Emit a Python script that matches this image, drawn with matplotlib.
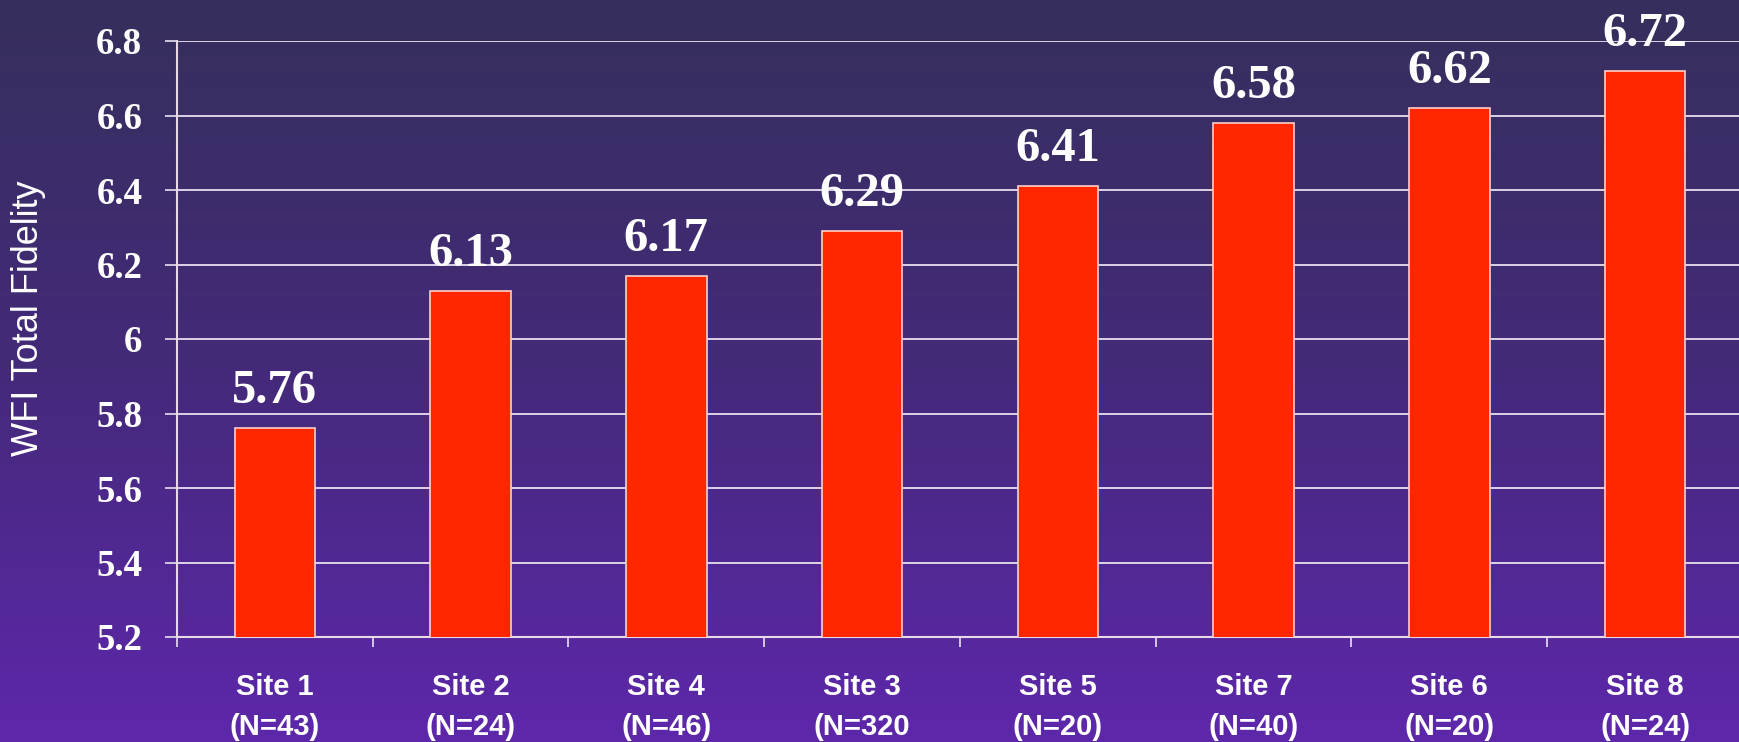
import numpy as np
import matplotlib
matplotlib.use("Agg")
import matplotlib.pyplot as plt
from matplotlib.colors import LinearSegmentedColormap

sites = ["Site 1", "Site 2", "Site 4", "Site 3", "Site 5", "Site 7", "Site 6", "Site 8"]
ns = ["(N=43)", "(N=24)", "(N=46)", "(N=320", "(N=20)", "(N=40)", "(N=20)", "(N=24)"]
values = [5.76, 6.13, 6.17, 6.29, 6.41, 6.58, 6.62, 6.72]
yticks = [5.2, 5.4, 5.6, 5.8, 6.0, 6.2, 6.4, 6.6, 6.8]
ylabel = "WFI Total Fidelity"

fig = plt.figure(figsize=(17.4, 7.42), dpi=100)

# gradient background
bg = fig.add_axes([0, 0, 1, 1], zorder=-10)
cmap = LinearSegmentedColormap.from_list("bg", ["#362f5c", "#442a7a", "#5e27ab"])
grad = np.linspace(0, 1, 256).reshape(-1, 1)
bg.imshow(grad, aspect="auto", cmap=cmap, extent=[0, 1, 0, 1], origin="upper")
bg.set_axis_off()

ax = fig.add_axes([177 / 1740, 1 - 637 / 742, 1566 / 1740, 596 / 742])
ax.set_facecolor("none")

x = np.arange(len(values))
bars = ax.bar(x, values, width=0.41, bottom=0, color="#ff2600",
              edgecolor="#ffd0c8", linewidth=1.2, zorder=3)

ax.set_xlim(-0.5, len(values) - 0.5)
ax.set_ylim(5.2, 6.8)
ax.set_yticks(yticks)
ax.set_yticklabels([f"{v:g}" for v in yticks])
ax.grid(axis="y", color="#e8e0f0", linewidth=1.3, zorder=1)
ax.set_axisbelow(True)

for lab in ax.get_yticklabels():
    lab.set_fontfamily("Liberation Serif")
    lab.set_fontweight("bold")
    lab.set_fontsize(26.5)
    lab.set_color("white")
ax.tick_params(axis="y", length=9, width=1.2, color="#e8e0f0", pad=16)

ax.set_xticks(x)
ax.set_xticklabels([f"{s}\n{n}" for s, n in zip(sites, ns)],
                   fontfamily="Liberation Sans", fontweight="bold",
                   fontsize=21, color="white", linespacing=1.55)
ax.tick_params(axis="x", which="major", length=0, pad=26)
ax.set_xticks(np.arange(-0.5, len(values)), minor=True)
ax.tick_params(axis="x", which="minor", length=7, width=1.2, color="#e8e0f0")

for s in ["top", "right"]:
    ax.spines[s].set_visible(False)
ax.spines["left"].set_color("#e8d8e8")
ax.spines["left"].set_linewidth(1.5)
ax.spines["bottom"].set_color("#e8d8e8")
ax.spines["bottom"].set_linewidth(1.5)

for xi, v in zip(x, values):
    ax.annotate(f"{v:.2f}", (xi, v), xytext=(0, 18), textcoords="offset points",
                ha="center", va="baseline", fontfamily="Liberation Serif",
                fontweight="bold", fontsize=35, color="white", zorder=5,
                annotation_clip=False)

fig.text(29 / 1740, 1 - 318 / 742, ylabel, rotation=90, ha="center", va="center",
         fontfamily="Liberation Sans", fontsize=26, color="white")

fig.savefig("out.png", dpi=100)
